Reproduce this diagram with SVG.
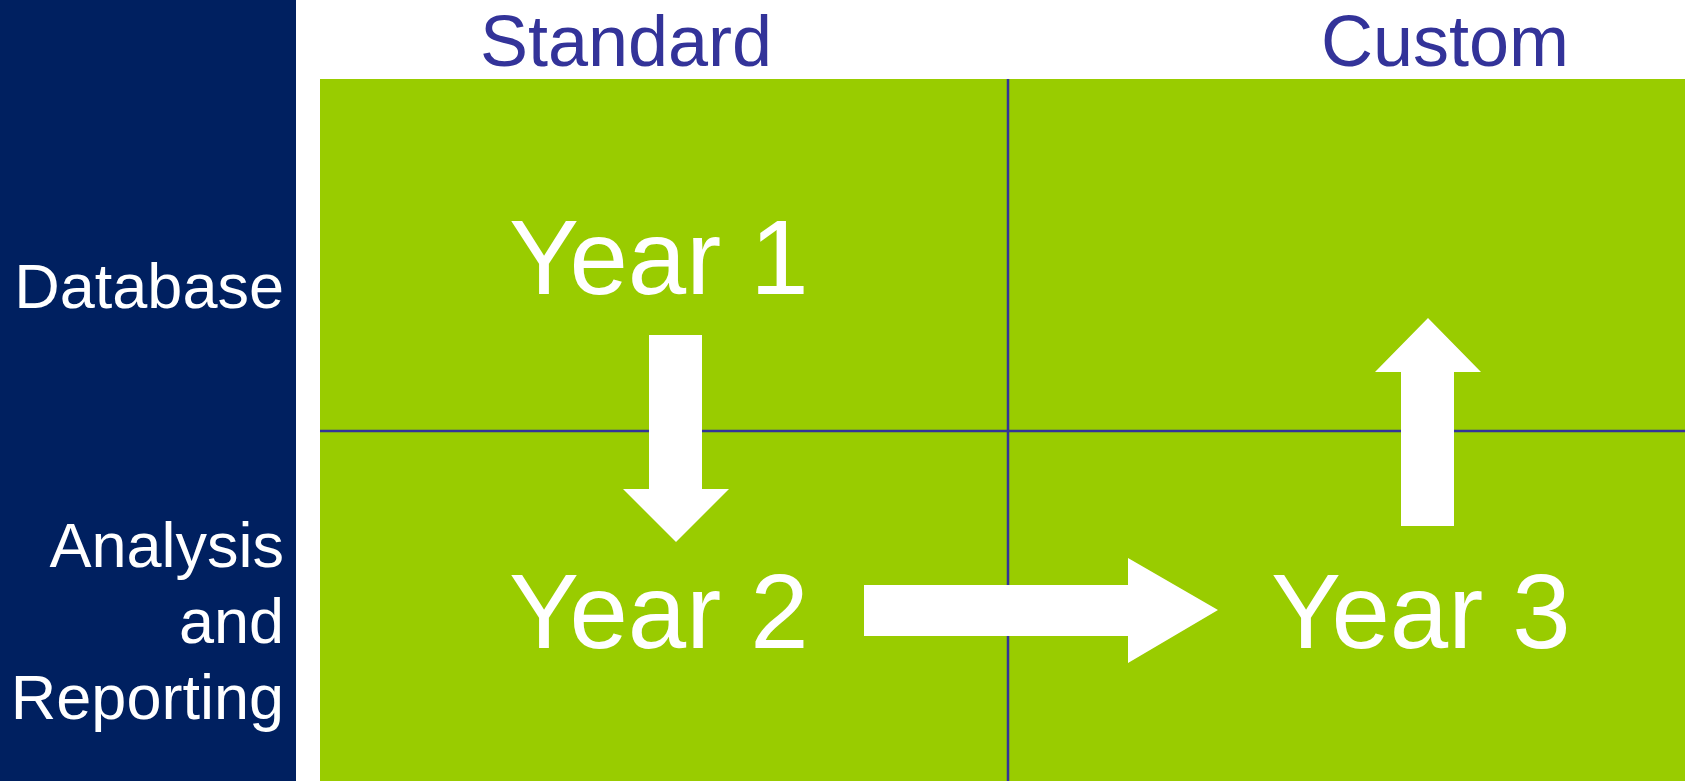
<svg xmlns="http://www.w3.org/2000/svg" width="1685" height="781" viewBox="0 0 1685 781">
<style>
.hdr{font-family:"Liberation Sans",Arial,sans-serif;font-size:72px;fill:#333399;text-anchor:middle}
.row{font-family:"Liberation Sans",Arial,sans-serif;font-size:63px;fill:#ffffff;text-anchor:end}
.yr{font-family:"Liberation Sans",Arial,sans-serif;font-size:105px;fill:#ffffff}
.grid{stroke:#333399;stroke-width:2.5;fill:none}
.arrow{fill:#ffffff}
</style>
<rect x="0" y="0" width="1685" height="781" fill="#ffffff"/>
<g id="side-panel">
<rect x="0" y="0" width="296" height="781" fill="#002060"/>
<text class="row" x="284" y="308">Database</text>
<text class="row" x="284" y="567">Analysis</text>
<text class="row" x="284" y="643">and</text>
<text class="row" x="284" y="719">Reporting</text>
</g>
<g id="headers">
<text class="hdr" x="626" y="66">Standard</text>
<text class="hdr" x="1445" y="66">Custom</text>
</g>
<g id="matrix">
<rect x="320" y="79" width="1365" height="702" fill="#99cc00"/>
<line class="grid" x1="1008" y1="79" x2="1008" y2="781"/>
<line class="grid" x1="320" y1="431" x2="1685" y2="431"/>
</g>
<g id="year1"><text class="yr" x="509" y="294">Year 1</text></g>
<g id="year2"><text class="yr" x="509" y="648">Year 2</text></g>
<g id="year3"><text class="yr" x="1271" y="648">Year 3</text></g>
<g id="connectors">
<polygon class="arrow" points="649,335 702,335 702,489 729,489 676,542 623,489 649,489"/>
<polygon class="arrow" points="864,585 1128,585 1128,558 1218,610 1128,663 1128,636 864,636"/>
<polygon class="arrow" points="1401,526 1454,526 1454,372 1481,372 1428,318 1375,372 1401,372"/>
</g>
</svg>
